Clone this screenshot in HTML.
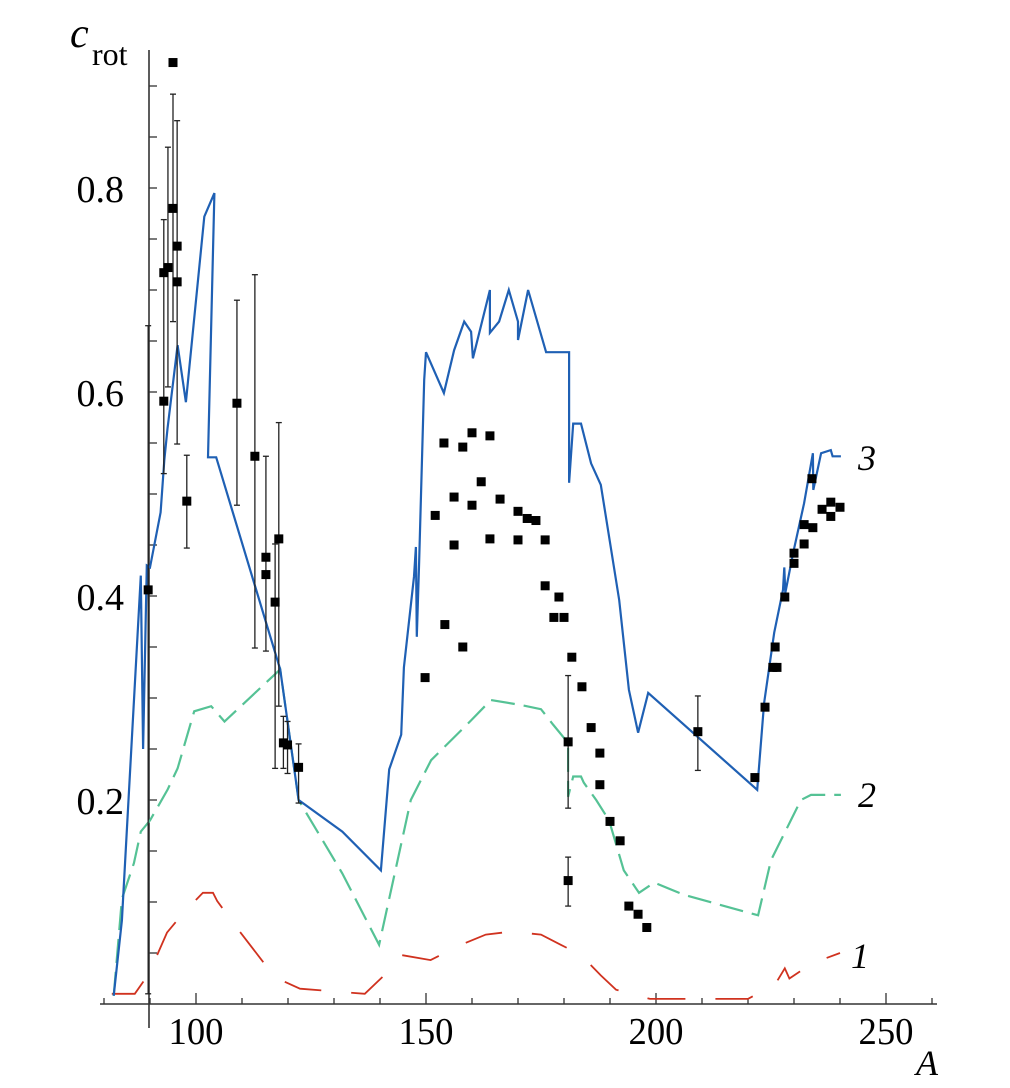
<!DOCTYPE html>
<html><head><meta charset="utf-8"><style>
html,body{margin:0;padding:0;background:#fff;}
svg{display:block;}
text{font-family:"Liberation Serif",serif;fill:#000;}
</style></head><body>
<svg id="chart" width="1010" height="1088" viewBox="0 0 1010 1088" xmlns="http://www.w3.org/2000/svg">
<g id="axes"></g>
<g id="series"></g>
<g id="points"></g>
<text x="70" y="47" font-size="42" font-style="italic">c</text>
<text x="92" y="65" font-size="32">rot</text>
<text x="916" y="1075" font-size="36" font-style="italic">A</text>
<text x="858" y="470" font-size="36" font-style="italic">3</text>
<text x="858" y="807" font-size="36" font-style="italic">2</text>
<text x="851" y="968" font-size="36" font-style="italic">1</text>
</svg>
<script>
const xTicks=[80,90,100,110,120,130,140,150,160,170,180,190,200,210,220,230,240,250,260];
const xTickLabels=[100,150,200,250];
const yTicks=[0.05,0.1,0.15,0.2,0.25,0.3,0.35,0.4,0.45,0.5,0.55,0.6,0.65,0.7,0.75,0.8,0.85,0.9];
const yTickLabels=[0.2,0.4,0.6,0.8];

const curve3A=[82.1,83.9,88,88.5,89.3,90,92.3,93.1,93.8,96,97.8,101.8,104,102.6,104.4,118.3,122.3,131.8,140.2,142,144.6,145.2,147.4,147.8,148,148.5,149.6,150,153.9,156.1,158.3,159.8,160.2,163.9,163.9,165.9,168,170,170,172.2,176.1,181.1,181.1,182,183.7,185.9,188,192,194.1,196.1,198.3,222,223.5,225.7,227.6,227.9,228.1,229.8,232.2,234.1,234.2,235.9,238,238.4,240.2];
const curve3V=[0.008,0.082,0.42,0.25,0.43,0.428,0.482,0.533,0.564,0.646,0.59,0.772,0.795,0.536,0.536,0.328,0.2,0.169,0.131,0.23,0.264,0.33,0.419,0.448,0.36,0.432,0.612,0.639,0.599,0.641,0.669,0.659,0.633,0.7,0.658,0.669,0.7,0.669,0.651,0.7,0.639,0.639,0.511,0.569,0.569,0.53,0.509,0.396,0.308,0.266,0.305,0.21,0.295,0.364,0.406,0.428,0.403,0.442,0.491,0.54,0.504,0.54,0.543,0.537,0.537];

const curve2A=[82.1,83.9,86.5,88,90,93.8,96,99.6,103.3,106.2,118.3,122.3,131.8,139.8,146.7,151.1,159.8,164.1,170.7,175,177.6,180.9,180.9,182,183.7,184.3,187,189.8,193,196.3,199.6,206.1,222.2,225,229.3,231.5,233.7,240.2];
const curve2V=[0.008,0.103,0.138,0.169,0.18,0.21,0.231,0.287,0.292,0.277,0.328,0.2,0.128,0.058,0.2,0.239,0.278,0.298,0.293,0.289,0.274,0.256,0.203,0.223,0.223,0.217,0.2,0.18,0.131,0.109,0.119,0.107,0.087,0.141,0.18,0.2,0.205,0.205];

const curve1A=[81.7,86.7,89.8,93.7,97.2,101.5,103.7,104.6,108.5,117.2,122.6,136.7,140.9,144.6,151,157.6,163,168.5,175,179.3,183.7,188,191.3,198.7,212.8,220,226,228,229,234,240];
const curve1V=[0.01,0.01,0.03,0.07,0.089,0.109,0.109,0.101,0.077,0.026,0.015,0.01,0.028,0.048,0.043,0.058,0.068,0.071,0.068,0.058,0.048,0.028,0.014,0.005,0.005,0.005,0.02,0.035,0.025,0.04,0.05];

const expA=[95,95,95.9,93,93.9,95.9,93,98,89.6,108.9,112.8,115.2,115.2,117.2,118,119,119.9,122.3,
149.8,152,153.9,154.1,156.1,156.1,158,158,160,160,162,163.9,163.9,166.1,170,170,172,173.9,175.9,175.9,177.8,178.9,180,181.7,183.9,185.9,187.8,187.8,190,192.2,194.1,196.1,198,180.9,180.9,
209.1,221.5,223.7,225.4,226.3,225.9,228,230,230,232.2,232.2,233.9,234.1,236.1,238,238,240];
const expV=[0.923,0.78,0.743,0.717,0.722,0.708,0.591,0.493,0.406,0.589,0.537,0.438,0.421,0.394,0.456,0.256,0.254,0.232,
0.32,0.479,0.55,0.372,0.497,0.45,0.546,0.35,0.56,0.489,0.512,0.557,0.456,0.495,0.483,0.455,0.476,0.474,0.455,0.41,0.379,0.399,0.379,0.34,0.311,0.271,0.246,0.215,0.179,0.16,0.096,0.088,0.075,0.257,0.121,
0.267,0.222,0.291,0.33,0.33,0.35,0.399,0.432,0.442,0.451,0.47,0.515,0.467,0.485,0.492,0.478,0.487];

const errA=[93,93.9,95,95.9,89.6,98,108.9,112.8,115.2,117.2,118,119,119.9,122.3,180.9,180.9,209.1];
const errLo=[0.52,0.605,0.669,0.549,0.01,0.447,0.489,0.349,0.346,0.231,0.292,0.231,0.226,0.197,0.192,0.096,0.229];
const errHi=[0.769,0.84,0.892,0.866,0.665,0.538,0.69,0.715,0.537,0.451,0.57,0.282,0.277,0.255,0.322,0.144,0.302];

const NS="http://www.w3.org/2000/svg";
function X(a){return 196+(a-100)*4.6;}
function Y(v){return 1004-v*1020;}
function mk(tag,attrs,parent){const e=document.createElementNS(NS,tag);for(const k in attrs)e.setAttribute(k,attrs[k]);parent.appendChild(e);return e;}
const axes=document.getElementById('axes');
const series=document.getElementById('series');
const pts=document.getElementById('points');

let e=mk('line',{x1:100,y1:1004,x2:937,y2:1004,stroke:'#333','stroke-width':1.6},axes);


e=mk('line',{x1:149,y1:50,x2:149,y2:1028,stroke:'#333','stroke-width':1.6},axes);


xTicks.forEach(t=>{
  const major=t%50===0;
  const el=mk('line',{x1:X(t),y1:1004,x2:X(t),y2:1004-(major?11:6),stroke:'#333','stroke-width':1.3},axes);
  
  
});
xTickLabels.forEach(t=>{
  const el=mk('text',{x:X(t),y:1044,'font-size':38,'text-anchor':'middle',textLength:55,lengthAdjust:'spacingAndGlyphs'},axes);
  el.textContent=String(t);
  
  
});
yTicks.forEach(t=>{
  const el=mk('line',{x1:149,y1:Y(t),x2:157,y2:Y(t),stroke:'#333','stroke-width':1.3},axes);
  
  
});
yTickLabels.forEach(t=>{
  const el=mk('text',{x:124,y:Y(t)+14,'font-size':38,'text-anchor':'end'},axes);
  el.textContent=t.toFixed(1);
  
  
});
function pathD(A,V){return A.map((a,i)=>(i?'L':'M')+X(a).toFixed(1)+' '+Y(V[i]).toFixed(1)).join(' ');}
e=mk('path',{d:pathD(curve1A,curve1V),fill:'none',stroke:'#d0321f','stroke-width':1.8,'stroke-dasharray':'38 30'},series);


e=mk('path',{d:pathD(curve2A,curve2V),fill:'none',stroke:'#55c295','stroke-width':2.2,'stroke-dasharray':'24 9'},series);


e=mk('path',{d:pathD(curve3A,curve3V),fill:'none',stroke:'#1f60b4','stroke-width':2.2},series);


errA.forEach((a,i)=>{
  const g=mk('g',{},pts);
  
  
  mk('line',{x1:X(a),y1:Y(errLo[i]),x2:X(a),y2:Y(errHi[i]),stroke:'#222','stroke-width':1.3},g);
  mk('line',{x1:X(a)-3,y1:Y(errLo[i]),x2:X(a)+3,y2:Y(errLo[i]),stroke:'#222','stroke-width':1.3},g);
  mk('line',{x1:X(a)-3,y1:Y(errHi[i]),x2:X(a)+3,y2:Y(errHi[i]),stroke:'#222','stroke-width':1.3},g);
});
expA.forEach((a,i)=>{
  const el=mk('rect',{x:X(a)-4.5,y:Y(expV[i])-4.5,width:9,height:9,fill:'#000'},pts);
  
  
});
</script>
</body></html>
